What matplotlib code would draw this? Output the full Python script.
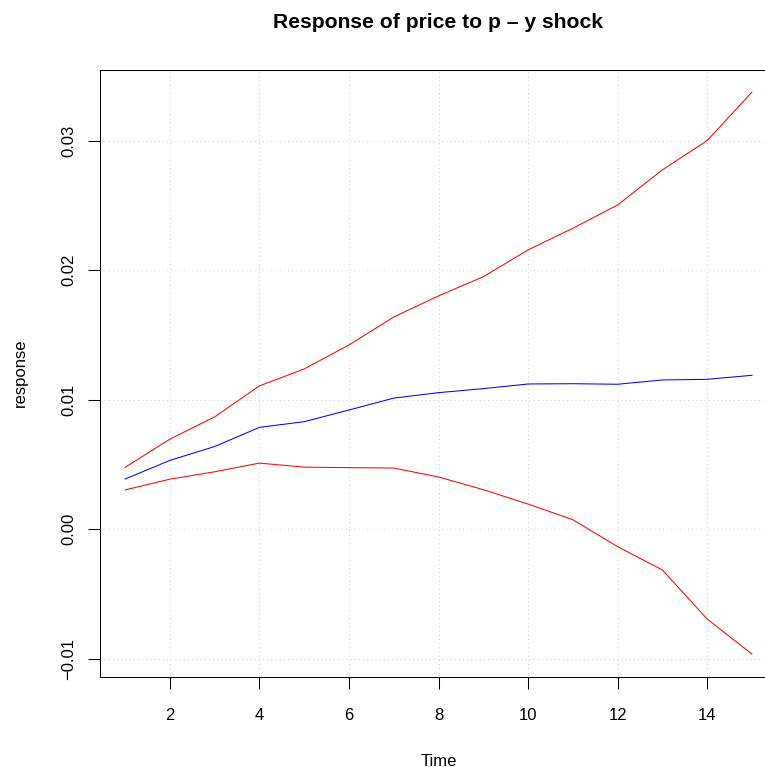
import numpy as np
import matplotlib
matplotlib.use("Agg")
import matplotlib.pyplot as plt

# impulse response of price to p - y shock, with bootstrap bands
time = np.arange(1, 16)
irf = [0.00388, 0.00532, 0.00639, 0.00787, 0.00831, 0.00921, 0.01013, 0.01055,
       0.01086, 0.01122, 0.01124, 0.01120, 0.01153, 0.01158, 0.01189]
upper = [0.00478, 0.00696, 0.00868, 0.01107, 0.01238, 0.01423, 0.01639, 0.01802,
         0.01950, 0.02157, 0.02324, 0.02504, 0.02775, 0.03001, 0.03375]
lower = [0.00304, 0.00387, 0.00444, 0.00511, 0.00480, 0.00476, 0.00473, 0.00404,
         0.00306, 0.00195, 0.00074, -0.00134, -0.00314, -0.00693, -0.00963]

xticks = [2, 4, 6, 8, 10, 12, 14]
yticks = [-0.01, 0.00, 0.01, 0.02, 0.03]
ytick_labels = ["\u22120.01", "0.00", "0.01", "0.02", "0.03"]

plt.rcParams['font.family'] = ['Liberation Sans', 'DejaVu Sans']

W, H = 765, 767
fig = plt.figure(figsize=(W / 100, H / 100), dpi=100)
# plot region in pixels (R style, right edge runs past the image)
left, right, top, bottom = 100, 777, 69.7, 676.5
ax = fig.add_axes([left / W, 1 - bottom / H, (right - left) / W, (bottom - top) / H])

lw = 0.75
ax.plot(time, irf, color='#0000FF', lw=lw)
ax.plot(time, upper, color='#FF0000', lw=lw)
ax.plot(time, lower, color='#FF0000', lw=lw)

# R's 4% axis extension
xr = time.max() - time.min()
ax.set_xlim(time.min() - 0.04 * xr, time.max() + 0.04 * xr)
ymin, ymax = min(lower), max(upper)
yr = ymax - ymin
ax.set_ylim(ymin - 0.04 * yr, ymax + 0.04 * yr)

ax.set_xticks(xticks)
ax.set_yticks(yticks)
ax.set_yticklabels(ytick_labels)
ax.grid(True, color='#D3D3D3', linestyle=(0, (1, 3)), lw=0.75)

for sp in ax.spines.values():
    sp.set_linewidth(0.75)
    sp.set_color('black')

fs = 12
ax.tick_params(axis='both', direction='out', length=8.6, width=0.75,
               labelsize=fs, colors='black')
ax.tick_params(axis='x', pad=14)
ax.tick_params(axis='y', pad=8.3)
for lab in ax.get_yticklabels():
    lab.set_rotation(90)
    lab.set_va('center')

cx = (left + right) / 2 / W
cy = 1 - (top + bottom) / 2 / H
fig.text(cx, 1 - 28 / H, "Response of price to p \u2013 y shock", ha='center',
         va='baseline', fontsize=15.2, fontweight='bold')
fig.text(cx, 1 - 765.5 / H, "Time", ha='center', va='baseline', fontsize=fs)
fig.text(25 / W, cy, "response", rotation=90, rotation_mode='anchor',
         ha='center', va='baseline', fontsize=fs)

fig.savefig("out.png", dpi=100)
